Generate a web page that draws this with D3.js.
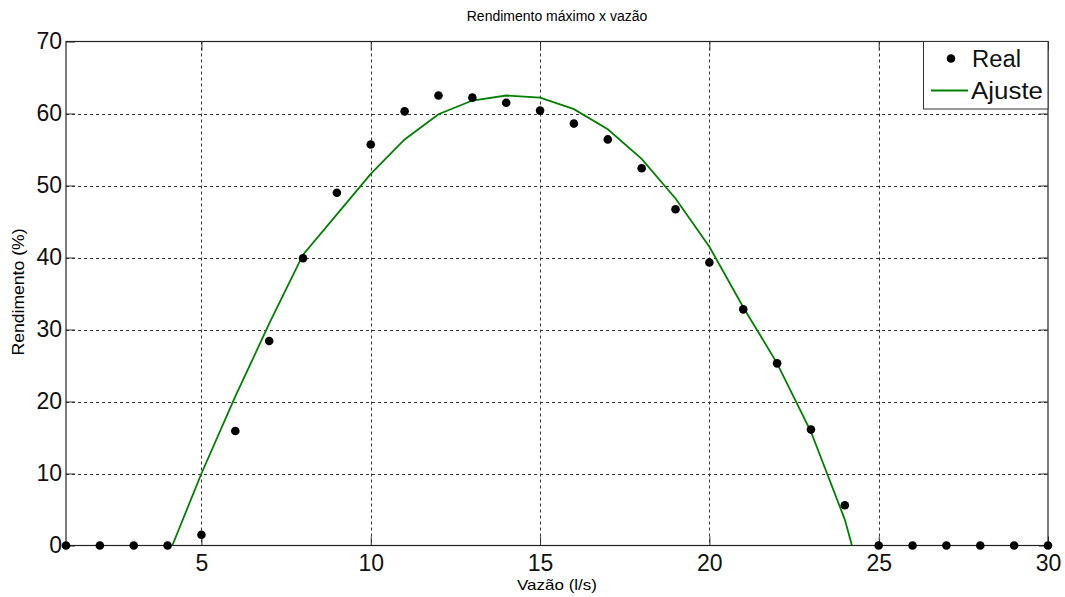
<!DOCTYPE html>
<html>
<head>
<meta charset="utf-8">
<script src="https://cdn.jsdelivr.net/npm/d3@7"></script>
<style>
  html, body { margin: 0; padding: 0; background: #fff; }
  svg { display: block; font-family: "Liberation Sans", Arial, sans-serif; }
</style>
</head>
<body>
<svg id="chart" width="1065" height="597"></svg>
<script>
// Data
const realX = [1, 2, 3, 4, 5, 6, 7, 8, 9, 10, 11, 12, 13, 14, 15, 16, 17, 18, 19, 20, 21, 22, 23, 24, 25, 26, 27, 28, 29, 30];
const realY = [0, 0, 0, 0, 1.5, 15.9, 28.4, 39.9, 49.0, 55.7, 60.3, 62.5, 62.2, 61.5, 60.4, 58.6, 56.4, 52.4, 46.7, 39.3, 32.8, 25.3, 16.1, 5.6, 0, 0, 0, 0, 0, 0];
const fitX = [4.14, 5, 6, 7, 8, 9, 10, 11, 12, 13, 14, 15, 16, 17, 18, 19, 20, 21, 22, 23, 24, 24.21];
const fitY = [0, 10.0, 20.7, 30.8, 40.4, 46.0, 51.6, 56.4, 59.9, 61.8, 62.5, 62.2, 60.6, 57.8, 53.7, 48.2, 41.5, 33.1, 25.3, 15.8, 3.6, 0];
const xTicks = [5, 10, 15, 20, 25, 30];
const yTicks = [0, 10, 20, 30, 40, 50, 60, 70];
const titleText = "Rendimento máximo x vazão";
const xLabel = "Vazão (l/s)";
const yLabel = "Rendimento (%)";
const legendLabels = ["Real", "Ajuste"];

const svg = d3.select("#chart");
const m = { left: 66, right: 1048, top: 41.5, bottom: 545.5 };
const x = d3.scaleLinear().domain([1, 30]).range([m.left, m.right]);
const y = d3.scaleLinear().domain([0, 70]).range([m.bottom, m.top]);

// clip
svg.append("defs").append("clipPath").attr("id", "clip")
  .append("rect").attr("x", m.left).attr("y", m.top)
  .attr("width", m.right - m.left).attr("height", m.bottom - m.top);

// grid
const grid = svg.append("g").attr("stroke", "#333").attr("stroke-width", 1).attr("stroke-dasharray", "3,3");
grid.selectAll("line.vx").data(xTicks.filter(d => d !== 30)).enter().append("line")
  .attr("x1", d => Math.round(x(d)) + 0.5).attr("x2", d => Math.round(x(d)) + 0.5)
  .attr("y1", m.top).attr("y2", m.bottom);
grid.selectAll("line.hy").data(yTicks.filter(d => d !== 0 && d !== 70)).enter().append("line")
  .attr("y1", d => Math.round(y(d)) + 0.5).attr("y2", d => Math.round(y(d)) + 0.5)
  .attr("x1", m.left).attr("x2", m.right);

// axes (ticks inward)
const tl = 9;
const xAxisB = d3.axisBottom(x).tickValues(xTicks).tickSize(-tl).tickPadding(9).tickFormat(d3.format("d"));
const xAxisT = d3.axisTop(x).tickValues(xTicks).tickSize(-tl).tickFormat("");
const yAxisL = d3.axisLeft(y).tickValues(yTicks).tickSize(-tl).tickPadding(4).tickFormat(d3.format("d"));
const yAxisR = d3.axisRight(y).tickValues(yTicks).tickSize(-tl).tickFormat("");

function styleAxis(g) {
  g.select(".domain").remove();
  g.selectAll(".tick line").attr("stroke", "#333");
  g.selectAll(".tick text").attr("fill", "#111").attr("font-size", 23)
    .attr("font-family", "'Liberation Sans', Arial, sans-serif");
}
svg.append("g").attr("transform", `translate(0,${m.bottom})`).call(xAxisB).call(styleAxis);
svg.append("g").attr("transform", `translate(0,${m.top})`).call(xAxisT).call(styleAxis);
svg.append("g").attr("transform", `translate(${m.left},0)`).call(yAxisL).call(styleAxis);
svg.append("g").attr("transform", `translate(${m.right},0)`).call(yAxisR).call(styleAxis);

// frame
svg.append("rect").attr("x", m.left).attr("y", m.top)
  .attr("width", m.right - m.left).attr("height", m.bottom - m.top)
  .attr("fill", "none").attr("stroke", "#222").attr("stroke-width", 1.2);

// fit line
const fitData = fitX.map((d, i) => [d, fitY[i]]);
svg.append("path").datum(fitData)
  .attr("clip-path", "url(#clip)")
  .attr("fill", "none").attr("stroke", "#008000").attr("stroke-width", 1.8)
  .attr("d", d3.line().x(d => x(d[0])).y(d => y(d[1])));

// points
const realData = realX.map((d, i) => [d, realY[i]]);
svg.append("g").selectAll("circle").data(realData).enter().append("circle")
  .attr("cx", d => x(d[0])).attr("cy", d => y(d[1])).attr("r", 4.3).attr("fill", "#000");

// title and labels
svg.append("text").attr("x", 557).attr("y", 21).attr("text-anchor", "middle")
  .attr("font-size", 14).attr("fill", "#000").text(titleText);
svg.append("text").attr("x", 557).attr("y", 590).attr("text-anchor", "middle")
  .attr("font-size", 15).attr("textLength", 80).attr("lengthAdjust", "spacingAndGlyphs")
  .attr("fill", "#000").text(xLabel);
svg.append("text").attr("transform", "translate(24,292) rotate(-90)").attr("text-anchor", "middle")
  .attr("font-size", 16).attr("textLength", 127).attr("lengthAdjust", "spacingAndGlyphs")
  .attr("fill", "#000").text(yLabel);

// legend
const lg = svg.append("g");
lg.append("rect").attr("x", 923.5).attr("y", 41.5).attr("width", 124.5).attr("height", 67.5)
  .attr("fill", "#fff").attr("stroke", "#333").attr("stroke-width", 1);
lg.append("circle").attr("cx", 951).attr("cy", 58.5).attr("r", 4.3).attr("fill", "#000");
lg.append("text").attr("x", 972).attr("y", 67).attr("font-size", 23)
  .attr("textLength", 49).attr("lengthAdjust", "spacingAndGlyphs").attr("fill", "#111").text(legendLabels[0]);
lg.append("line").attr("x1", 931).attr("x2", 968).attr("y1", 90.5).attr("y2", 90.5)
  .attr("stroke", "#008000").attr("stroke-width", 1.8);
lg.append("text").attr("x", 971).attr("y", 99).attr("font-size", 23)
  .attr("textLength", 72).attr("lengthAdjust", "spacingAndGlyphs").attr("fill", "#111").text(legendLabels[1]);
</script>
</body>
</html>
